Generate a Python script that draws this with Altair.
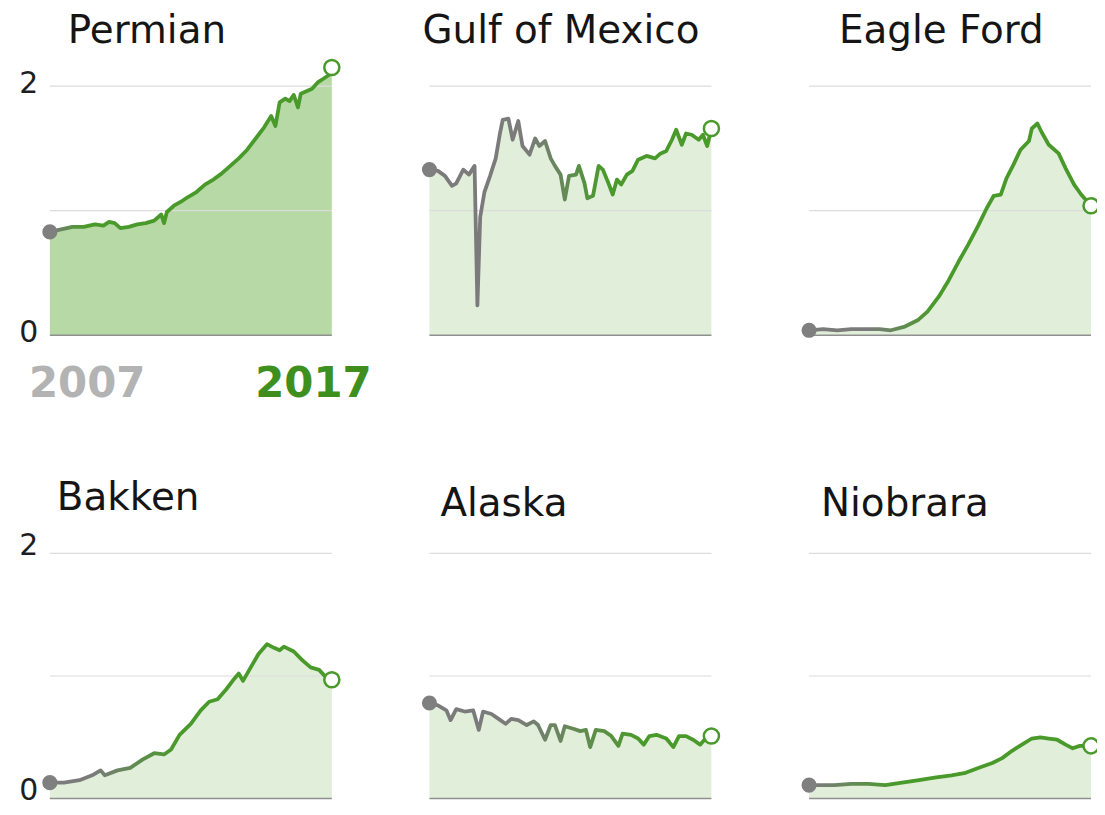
import altair as alt
import pandas as pd

FONT = "DejaVu Sans"

regions = ["Permian", "Gulf of Mexico", "Eagle Ford", "Bakken", "Alaska", "Niobrara"]

permian_years = [2007.0, 2007.4, 2007.8, 2008.2, 2008.6, 2008.9, 2009.1, 2009.3, 2009.5, 2009.8,
                 2010.1, 2010.4, 2010.7, 2010.95, 2011.05, 2011.15, 2011.4, 2011.7, 2011.9, 2012.2,
                 2012.5, 2012.8, 2013.1, 2013.4, 2013.7, 2014.0, 2014.3, 2014.6, 2014.85, 2015.0,
                 2015.15, 2015.35, 2015.5, 2015.65, 2015.8, 2015.9, 2016.1, 2016.3, 2016.5, 2016.7,
                 2016.9, 2017.0]
permian_values = [0.83, 0.85, 0.87, 0.87, 0.89, 0.88, 0.91, 0.90, 0.86, 0.87,
                  0.89, 0.90, 0.92, 0.97, 0.90, 0.99, 1.04, 1.08, 1.11, 1.15,
                  1.21, 1.25, 1.30, 1.36, 1.42, 1.49, 1.58, 1.67, 1.76, 1.68,
                  1.87, 1.90, 1.88, 1.93, 1.83, 1.94, 1.96, 1.98, 2.03, 2.06,
                  2.09, 2.15]

gulf_years = [2007.0, 2007.3, 2007.55, 2007.8, 2007.95, 2008.2, 2008.4, 2008.6, 2008.7, 2008.8,
              2008.95, 2009.15, 2009.35, 2009.5, 2009.6, 2009.8, 2009.95, 2010.15, 2010.3, 2010.55,
              2010.75, 2010.9, 2011.1, 2011.3, 2011.45, 2011.65, 2011.8, 2011.95, 2012.2, 2012.3,
              2012.5, 2012.6, 2012.8, 2013.0, 2013.15, 2013.35, 2013.5, 2013.65, 2013.8, 2014.0,
              2014.2, 2014.4, 2014.7, 2015.0, 2015.2, 2015.4, 2015.6, 2015.75, 2015.95, 2016.1,
              2016.3, 2016.55, 2016.7, 2016.85, 2017.0]
gulf_values = [1.33, 1.32, 1.28, 1.20, 1.22, 1.33, 1.29, 1.36, 0.24, 0.95,
               1.15, 1.28, 1.42, 1.62, 1.73, 1.74, 1.57, 1.72, 1.52, 1.45,
               1.58, 1.52, 1.56, 1.42, 1.36, 1.29, 1.09, 1.28, 1.29, 1.36,
               1.22, 1.10, 1.12, 1.36, 1.33, 1.22, 1.13, 1.25, 1.21, 1.29,
               1.32, 1.41, 1.44, 1.42, 1.46, 1.48, 1.57, 1.65, 1.53, 1.62,
               1.61, 1.57, 1.61, 1.52, 1.66]

eagle_years = [2007.0, 2007.5, 2008.0, 2008.5, 2009.0, 2009.5, 2009.9, 2010.4, 2010.85, 2011.2,
               2011.6, 2011.95, 2012.3, 2012.65, 2013.0, 2013.3, 2013.55, 2013.8, 2014.0, 2014.25,
               2014.5, 2014.8, 2014.9, 2015.1, 2015.25, 2015.5, 2015.85, 2016.1, 2016.4, 2016.65,
               2017.0]
eagle_values = [0.04, 0.05, 0.04, 0.05, 0.05, 0.05, 0.04, 0.07, 0.12, 0.19,
                0.31, 0.44, 0.59, 0.73, 0.88, 1.02, 1.12, 1.13, 1.26, 1.37,
                1.49, 1.56, 1.66, 1.70, 1.63, 1.53, 1.46, 1.34, 1.21, 1.13,
                1.04]

bakken_years = [2007.0, 2007.5, 2008.05, 2008.5, 2008.8, 2008.95, 2009.4, 2009.85, 2010.3, 2010.7,
                2011.05, 2011.3, 2011.6, 2012.0, 2012.35, 2012.65, 2012.95, 2013.25, 2013.55, 2013.7,
                2013.85, 2014.1, 2014.4, 2014.7, 2014.95, 2015.15, 2015.3, 2015.65, 2015.95, 2016.25,
                2016.55, 2016.75, 2017.0]
bakken_values = [0.13, 0.13, 0.15, 0.19, 0.23, 0.19, 0.23, 0.25, 0.32, 0.37,
                 0.36, 0.40, 0.52, 0.61, 0.72, 0.79, 0.81, 0.89, 0.98, 1.02,
                 0.96, 1.06, 1.18, 1.26, 1.23, 1.21, 1.24, 1.20, 1.13, 1.07,
                 1.05, 1.00, 0.97]

alaska_years = [2007.0, 2007.3, 2007.6, 2007.75, 2007.95, 2008.25, 2008.55, 2008.75, 2008.9, 2009.2,
                2009.45, 2009.7, 2009.9, 2010.15, 2010.45, 2010.7, 2010.85, 2011.1, 2011.3, 2011.45,
                2011.65, 2011.8, 2012.1, 2012.35, 2012.55, 2012.7, 2012.9, 2013.2, 2013.45, 2013.7,
                2013.85, 2014.15, 2014.4, 2014.6, 2014.8, 2015.05, 2015.4, 2015.65, 2015.85, 2016.1,
                2016.35, 2016.6, 2016.75, 2017.0]
alaska_values = [0.78, 0.76, 0.72, 0.64, 0.73, 0.71, 0.72, 0.56, 0.71, 0.69,
                 0.65, 0.61, 0.65, 0.64, 0.60, 0.63, 0.60, 0.48, 0.60, 0.60,
                 0.47, 0.59, 0.57, 0.55, 0.56, 0.42, 0.56, 0.55, 0.51, 0.43,
                 0.53, 0.52, 0.49, 0.44, 0.51, 0.52, 0.49, 0.42, 0.51, 0.51,
                 0.48, 0.44, 0.48, 0.51]

niobrara_years = [2007.0, 2007.9, 2008.5, 2009.1, 2009.7, 2010.3, 2010.9, 2011.45, 2012.05, 2012.55,
                  2013.0, 2013.5, 2013.85, 2014.2, 2014.55, 2014.9, 2015.2, 2015.5, 2015.8, 2016.1,
                  2016.35, 2016.6, 2017.0]
niobrara_values = [0.11, 0.11, 0.12, 0.12, 0.11, 0.13, 0.15, 0.17, 0.19, 0.21,
                   0.25, 0.29, 0.33, 0.39, 0.44, 0.49, 0.50, 0.49, 0.48, 0.44,
                   0.41, 0.43, 0.43]

y_ticks = [0, 1, 2]
grid_levels = [1, 2]
base_level = [0]
year_label_text = ["2007", "2017"]
year_label_pos = [2007, 2017]

series = {
    "Permian": (permian_years, permian_values),
    "Gulf of Mexico": (gulf_years, gulf_values),
    "Eagle Ford": (eagle_years, eagle_values),
    "Bakken": (bakken_years, bakken_values),
    "Alaska": (alaska_years, alaska_values),
    "Niobrara": (niobrara_years, niobrara_values),
}

# ---- styles ----
GRAY = "#7b7b7b"
GREEN = "#4a9a2b"
AREA_LIGHT = "#e1efda"
AREA_DARK = "#b6d9a6"
W = 283
H_TOP, H_BOTTOM = 250, 246
TITLE_SIZE = 39
title_dx = {"Permian": 18, "Gulf of Mexico": -7, "Eagle Ford": 30,
            "Bakken": 7, "Alaska": 11, "Niobrara": 12}
title_offset = {"Permian": -27, "Gulf of Mexico": 3.3, "Eagle Ford": 3.3,
                "Bakken": -18, "Alaska": -1.6, "Niobrara": -1.6}
grad_stops = {"Permian": (0.0, 0.12), "Gulf of Mexico": (0.35, 0.62), "Eagle Ford": (0.2, 0.45),
              "Bakken": (0.15, 0.45), "Alaska": (0.3, 0.75), "Niobrara": (0.02, 0.3)}

xscale = alt.Scale(domain=[2007, 2017], nice=False, zero=False)
yscale = alt.Scale(domain=[0, 2], nice=False, zero=True)


def panel(i, name):
    years, values = series[name]
    df = pd.DataFrame({"year": years, "value": values})
    left = i % 3 == 0
    top = i < 3
    if left:
        yaxis = alt.Axis(values=y_ticks, grid=False, domain=False, ticks=False,
                         labelFontSize=30, labelFont=FONT, labelColor="#1e1e1e",
                         labelPadding=12, labelOffset=-3 if top else -8,
                         format="d", title=None)
    else:
        yaxis = None
    X = alt.X("year:Q", scale=xscale, axis=None)
    Y = alt.Y("value:Q", scale=yscale, axis=yaxis)

    area = alt.Chart(df).mark_area(
        color=AREA_DARK if name == "Permian" else AREA_LIGHT, opacity=1
    ).encode(x=X, y=Y)

    grid = alt.Chart(pd.DataFrame({"value": grid_levels})).mark_rule(
        color="#dcdcdc", strokeWidth=1.2
    ).encode(y=Y)
    base = alt.Chart(pd.DataFrame({"value": base_level})).mark_rule(
        color="#8f8f8f", strokeWidth=1.6
    ).encode(y=Y)

    g0, g1 = grad_stops[name]
    gradient = alt.Gradient(
        gradient="linear",
        stops=[alt.GradientStop(color=GRAY, offset=0),
               alt.GradientStop(color=GRAY, offset=g0),
               alt.GradientStop(color=GREEN, offset=g1),
               alt.GradientStop(color=GREEN, offset=1)],
        x1=0, x2=1, y1=0, y2=0,
    )
    line = alt.Chart(df).mark_line(stroke=gradient, strokeWidth=3.8, strokeJoin="round").encode(x=X, y=Y)

    start = alt.Chart(df.iloc[[0]]).mark_circle(color="#7f7f7f", size=230, opacity=1).encode(x=X, y=Y)
    end = alt.Chart(df.iloc[[-1]]).mark_circle(
        fill="white", stroke=GREEN, strokeWidth=2.5, size=230, opacity=1, fillOpacity=1
    ).encode(x=X, y=Y)

    layers = [area, grid, base, line, start, end]

    if name == "Permian":
        lab = pd.DataFrame({"year": year_label_pos, "value": [0, 0], "t": year_label_text})
        t1 = alt.Chart(lab.iloc[[0]]).mark_text(
            align="left", baseline="alphabetic", dx=-21, dy=62, font=FONT,
            fontSize=42, fontWeight="bold", color="#b3b3b3"
        ).encode(x=X, y=Y, text="t:N")
        t2 = alt.Chart(lab.iloc[[1]]).mark_text(
            align="right", baseline="alphabetic", dx=40, dy=62, font=FONT,
            fontSize=42, fontWeight="bold", color="#3f8f1f"
        ).encode(x=X, y=Y, text="t:N")
        layers += [t1, t2]

    return alt.layer(*layers).properties(
        width=W, height=H_TOP if top else H_BOTTOM,
        title=alt.TitleParams(text=name, anchor="start", frame="group", fontSize=TITLE_SIZE,
                              font=FONT, fontWeight="normal", color="#151515",
                              offset=title_offset[name], dx=title_dx[name],
                              baseline="alphabetic"),
    )


chart = alt.concat(
    *[panel(i, n) for i, n in enumerate(regions)],
    columns=3,
    spacing={"row": 219, "column": 98},
    bounds="flush",
).properties(
    padding={"left": 10, "top": 2, "right": -7, "bottom": -1}
).configure(background="white").configure_view(stroke=None)

chart.save("out.html", embed_options={"renderer": "svg", "actions": False})
